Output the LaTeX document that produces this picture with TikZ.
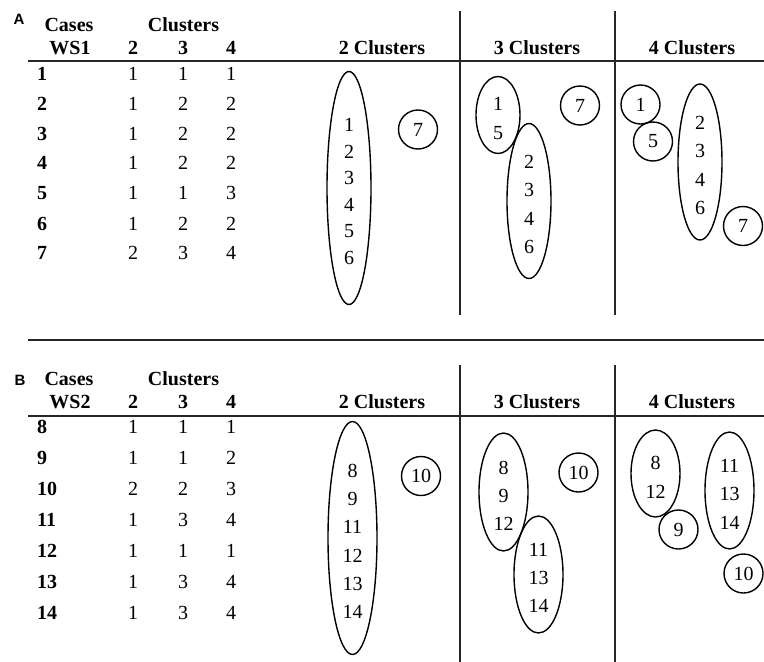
\documentclass[tikz,border=0pt]{standalone}
\usepackage{fontspec}
\setmainfont{Liberation Serif}
\newfontfamily\panelfont{Liberation Sans}
\usetikzlibrary{shapes.geometric}
\tikzset{
  panel/.style={font=\panelfont\bfseries\fontsize{15}{17}\selectfont, inner sep=0pt},
  head/.style={font=\bfseries\fontsize{20}{24}\selectfont, inner sep=0pt},
  case/.style={font=\bfseries\fontsize{20}{24}\selectfont, inner sep=0pt, anchor=west},
  cell/.style={font=\fontsize{20}{24}\selectfont, inner sep=0pt},
  rule/.style={line width=2pt, draw=black!85},
  group/.style={ellipse, draw=black, line width=1.4pt, inner sep=0pt,
    align=center, minimum width=#1},
  group/.default=44pt,
  single/.style={circle, draw=black, line width=1.4pt, inner sep=0pt,
    minimum size=39pt, font=\fontsize{20}{24}\selectfont}
}
\newcommand{\grouptop}{\rule{0pt}{20pt}}

\begin{document}
\begin{tikzpicture}[x=1pt, y=-1pt]
\useasboundingbox (0,0) rectangle (764,662);

%% ── Rules ──────────────────────────────────────────────
\draw[rule] (28,61)  -- (764,61);
\draw[rule] (28,340) -- (764,340);
\draw[rule] (28,416) -- (764,416);
\draw[rule] (460,11)  -- (460,315);
\draw[rule] (615,11)  -- (615,315);
\draw[rule] (460,365) -- (460,662);
\draw[rule] (615,365) -- (615,662);

%% ── Panel A: table ─────────────────────────────────────
\node[panel] (pA)     at (19,19)    {A};
\node[head]  (aCases) at (69,25)    {Cases};
\node[head]  (aClus)  at (183.5,25) {Clusters};
\node[head]  (aWS)    at (70,48)    {WS1};
\node[head]  (aK2)    at (133,48)   {2};
\node[head]  (aK3)    at (183,48)   {3};
\node[head]  (aK4)    at (231,48)   {4};

\node[case] (a1) at (37,74)  {1}; \node[cell] at (133,74)  {1}; \node[cell] at (183,74)  {1}; \node[cell] at (231,74)  {1};
\node[case] (a2) at (37,104) {2}; \node[cell] at (133,104) {1}; \node[cell] at (183,104) {2}; \node[cell] at (231,104) {2};
\node[case] (a3) at (37,134) {3}; \node[cell] at (133,134) {1}; \node[cell] at (183,134) {2}; \node[cell] at (231,134) {2};
\node[case] (a4) at (37,163) {4}; \node[cell] at (133,163) {1}; \node[cell] at (183,163) {2}; \node[cell] at (231,163) {2};
\node[case] (a5) at (37,193) {5}; \node[cell] at (133,193) {1}; \node[cell] at (183,193) {1}; \node[cell] at (231,193) {3};
\node[case] (a6) at (37,224) {6}; \node[cell] at (133,224) {1}; \node[cell] at (183,224) {2}; \node[cell] at (231,224) {2};
\node[case] (a7) at (37,253) {7}; \node[cell] at (133,253) {2}; \node[cell] at (183,253) {3}; \node[cell] at (231,253) {4};

%% ── Panel A: clusters ──────────────────────────────────
\node[head] (aT2) at (382,48) {2 Clusters};
\node[head] (aT3) at (537,48) {3 Clusters};
\node[head] (aT4) at (692,48) {4 Clusters};

\node[group, minimum height=233pt, font=\fontsize{20}{26.6}\selectfont]
  (a2big) at (349,188) {\grouptop 1\\2\\3\\4\\5\\6};
\node[single] (a2seven) at (418,129.5) {7};

\node[group, minimum height=77pt, font=\fontsize{20}{29}\selectfont]
  (a3one) at (498,115) {\grouptop 1\\5};
\node[group, minimum height=155pt, font=\fontsize{20}{28.3}\selectfont]
  (a3two) at (529,201) {\grouptop 2\\3\\4\\6};
\node[single] (a3seven) at (580,105.5) {7};

\node[single] (a4one)  at (640.5,104.5) {1};
\node[single] (a4five) at (653,141.5)   {5};
\node[group, minimum height=156pt, font=\fontsize{20}{28.3}\selectfont]
  (a4two) at (700,162) {\grouptop 2\\3\\4\\6};
\node[single] (a4seven) at (743,226) {7};

%% ── Panel B: table ─────────────────────────────────────
\node[panel] (pB)     at (20,380)   {B};
\node[head]  (bCases) at (69,379)   {Cases};
\node[head]  (bClus)  at (183.5,379){Clusters};
\node[head]  (bWS)    at (70,402)   {WS2};
\node[head]  (bK2)    at (133,402)  {2};
\node[head]  (bK3)    at (183,402)  {3};
\node[head]  (bK4)    at (231,402)  {4};

\node[case] (b8)  at (37,427) {8};  \node[cell] at (133,427) {1}; \node[cell] at (183,427) {1}; \node[cell] at (231,427) {1};
\node[case] (b9)  at (37,458) {9};  \node[cell] at (133,458) {1}; \node[cell] at (183,458) {1}; \node[cell] at (231,458) {2};
\node[case] (b10) at (37,489) {10}; \node[cell] at (133,489) {2}; \node[cell] at (183,489) {2}; \node[cell] at (231,489) {3};
\node[case] (b11) at (37,520) {11}; \node[cell] at (133,520) {1}; \node[cell] at (183,520) {3}; \node[cell] at (231,520) {4};
\node[case] (b12) at (37,551) {12}; \node[cell] at (133,551) {1}; \node[cell] at (183,551) {1}; \node[cell] at (231,551) {1};
\node[case] (b13) at (37,582) {13}; \node[cell] at (133,582) {1}; \node[cell] at (183,582) {3}; \node[cell] at (231,582) {4};
\node[case] (b14) at (37,613) {14}; \node[cell] at (133,613) {1}; \node[cell] at (183,613) {3}; \node[cell] at (231,613) {4};

%% ── Panel B: clusters ──────────────────────────────────
\node[head] (bT2) at (382,402) {2 Clusters};
\node[head] (bT3) at (537,402) {3 Clusters};
\node[head] (bT4) at (692,402) {4 Clusters};

\node[group=49pt, minimum height=233pt, font=\fontsize{20}{28.2}\selectfont]
  (b2big) at (352.5,538) {\grouptop 8\\9\\11\\12\\13\\14};
\node[single] (b2ten) at (421,476) {10};

\node[group=49pt, minimum height=118pt, font=\fontsize{20}{28}\selectfont]
  (b3one) at (503.5,492) {\grouptop 8\\9\\12};
\node[group=49pt, minimum height=117pt, font=\fontsize{20}{28}\selectfont]
  (b3two) at (538.5,574.5) {\grouptop 11\\13\\14};
\node[single] (b3ten) at (578.5,472.5) {10};

\node[group=49pt, minimum height=87pt, font=\fontsize{20}{29}\selectfont]
  (b4one) at (655.5,473.5) {\grouptop 8\\12};
\node[single] (b4nine) at (678.5,529.5) {9};
\node[group=49pt, minimum height=117pt, font=\fontsize{20}{28.5}\selectfont]
  (b4two) at (729.5,490.5) {\grouptop 11\\13\\14};
\node[single] (b4ten) at (743.5,573.5) {10};

\end{tikzpicture}
\end{document}
